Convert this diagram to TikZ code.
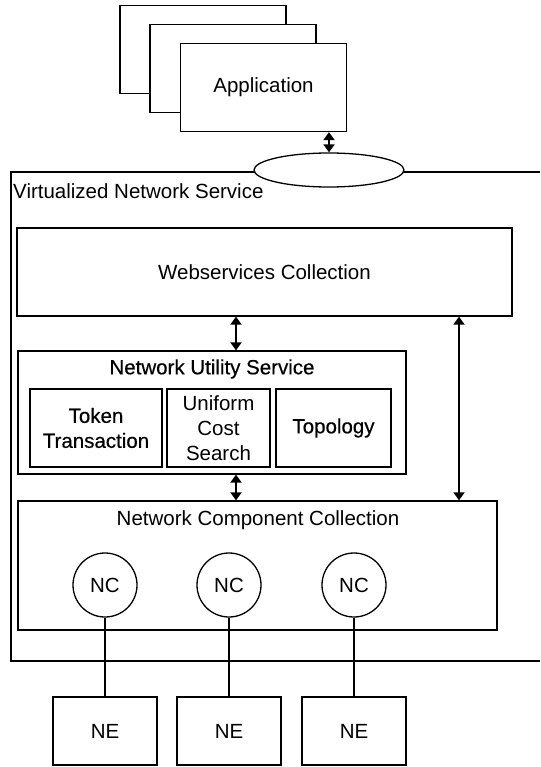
\documentclass[tikz,border=0pt]{standalone}
\usepackage{fontspec}
\setmainfont{Liberation Sans}
\newfontfamily\heavysans[FakeBold=0.4]{Liberation Sans}
\usetikzlibrary{arrows.meta,shapes.geometric}

\begin{document}
\begin{tikzpicture}[x=1pt, y=-1pt,
    every node/.style={font=\fontsize{20.5}{25}\selectfont},
    box/.style={draw, line width=1.3pt, inner sep=0pt},
    heavybox/.style={draw, line width=1.9pt, inner sep=0pt, align=center,
        font=\heavysans\fontsize{20.5}{25}\selectfont},
    plainbox/.style={draw, line width=1.2pt, inner sep=0pt, align=center},
    nc/.style={draw, circle, line width=1.3pt, minimum size=64pt, inner sep=0pt},
    link/.style={line width=1.3pt},
    biarrow/.style={line width=2.6pt, {Triangle[length=8pt,width=11pt]}-{Triangle[length=8pt,width=11pt]}},
]
    \useasboundingbox (0,0) rectangle (540,767);
    %
    % stacked applications
    \node[box, fill=white, minimum width=166pt, minimum height=88pt] (app3) at (203,49.5) {};
    \node[box, fill=white, minimum width=166pt, minimum height=88pt] (app2) at (233,68.5) {};
    \node[box, fill=white, minimum width=166pt, minimum height=88pt] (app)  at (263.5,87.5) {Application};
    %
    % virtualized network service (open on the right)
    \coordinate (vtop) at (540,172);
    \coordinate (vbot) at (540,661);
    \draw[link] (vtop) -- (11,172) -- (11,661) -- (vbot);
    \node[draw, ellipse, fill=white, line width=1.3pt, minimum width=150pt, minimum height=34pt] (iface) at (329,170) {};
    \node[anchor=west, inner sep=0pt] (vns) at (13,191) {Virtualized Network Service};
    %
    \node[box, minimum width=495pt, minimum height=88pt] (ws) at (264.5,272) {Webservices Collection};
    %
    \node[box, minimum width=388pt, minimum height=123pt] (nus) at (212,412.5) {};
    \node (nustitle) at (212,369) {\heavysans Network Utility Service};
    \node[heavybox, minimum width=132pt, minimum height=78pt] (token) at (96,428) {Token\\Transaction};
    \node[plainbox, minimum width=103pt, minimum height=78pt] (ucs)   at (218.5,428) {Uniform\\Cost\\Search};
    \node[heavybox, minimum width=115pt, minimum height=78pt] (topo)  at (333.5,428) {Topology};
    %
    \node[box, minimum width=479pt, minimum height=129pt] (ncc) at (257.5,565.5) {};
    \node (ncctitle) at (258,520) {Network Component Collection};
    \node[nc] (nc1) at (105,585) {NC};
    \node[nc] (nc2) at (229,585) {NC};
    \node[nc] (nc3) at (354,585) {NC};
    %
    % network elements
    \node[box, minimum width=104pt, minimum height=68pt] (ne1) at (105,731) {NE};
    \node[box, minimum width=104pt, minimum height=68pt] (ne2) at (229,731) {NE};
    \node[box, minimum width=104pt, minimum height=68pt] (ne3) at (354,731) {NE};
    %
    \draw[link] (nc1) -- (ne1);
    \draw[link] (nc2) -- (ne2);
    \draw[link] (nc3) -- (ne3);
    %
    \coordinate (busx)  at (236,0);
    \coordinate (sidex) at (459,0);
    \draw[biarrow] (app.south -| iface) -- (iface.north);
    \draw[biarrow] (ws.south -| busx) -- (nus.north -| busx);
    \draw[biarrow] (nus.south -| busx) -- (ncc.north -| busx);
    \draw[biarrow, line width=1.8pt] (ws.south -| sidex) -- (ncc.north -| sidex);
\end{tikzpicture}
\end{document}
